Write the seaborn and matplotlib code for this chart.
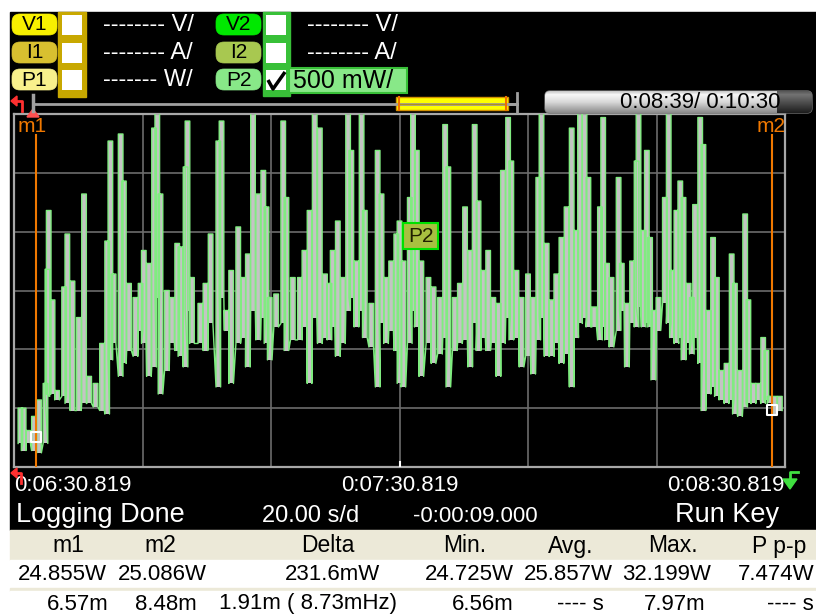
import numpy as np
import pandas as pd
import matplotlib
matplotlib.use("Agg")
import matplotlib.pyplot as plt
import seaborn as sns
from matplotlib.patches import Rectangle, FancyBboxPatch, Polygon

# ---------------- data ----------------
# time in seconds after 0:06:30.819, P2 power envelope (W)
t_s = [1.0, 1.5, 2.2, 3.1, 3.9, 4.9, 5.2, 5.4, 6.0, 6.7,
       7.8, 8.3, 9.1, 10.1, 10.9, 11.7, 12.7, 13.7, 14.5, 15.0,
       15.5, 16.6, 17.1, 17.9, 18.9, 19.7, 20.2, 21.0, 21.8, 22.3,
       22.8, 23.8, 24.6, 25.4, 25.9, 26.7, 27.0, 27.7, 29.0, 29.8,
       30.6,
       31.8, 32.3, 33.1, 33.8, 34.9, 35.7, 36.4, 37.2, 38.0, 38.8,
       39.3, 39.8, 40.8, 41.9, 42.4, 43.4, 44.5, 45.2, 46.0, 46.8,
       47.6, 48.4, 49.1, 49.6, 50.4, 51.2, 52.0, 52.5, 53.3, 54.1,
       54.6, 55.6, 56.6, 57.2, 57.9, 58.7, 59.5, 60.0,
       60.6, 61.6, 62.1, 62.7, 63.4, 64.5, 65.3, 66.3, 67.1, 67.6,
       68.6, 69.4, 70.2, 71.0, 71.7, 72.3, 73.0, 73.8, 74.6, 75.4,
       76.1, 76.9, 77.4, 78.2, 79.0, 80.0, 80.8, 81.6, 82.1, 82.9,
       83.7, 84.4, 85.2, 86.0, 86.8, 87.5, 88.1, 88.8, 89.4, 90.3,
       91.2, 91.7, 92.3, 93.0, 94.1, 94.6, 95.4, 96.2, 96.9, 97.2,
       98.0, 98.5, 99.0, 99.5, 100.3, 101.3, 101.9, 102.4, 103.1, 103.7,
       104.2, 105.0, 105.5, 106.0, 106.8, 107.3, 108.1, 108.8, 109.4, 110.1,
       110.9, 111.7, 112.2, 113.0, 113.8, 114.3, 115.1, 115.8, 116.6, 117.1,
       117.6, 118.4, 119.2]

p2_hi = [25.10, 25.10, 24.91, 25.03, 25.17, 25.31, 26.28, 26.78, 26.02, 25.25,
         26.13, 26.58, 26.18, 25.87, 26.92, 25.37, 25.31, 25.65, 26.52, 27.37,
         26.24, 27.43, 27.03, 26.16, 26.04, 26.16, 26.44, 26.33, 27.48, 27.90,
         26.92, 26.10, 26.04, 26.50, 26.47, 27.15, 27.54, 26.21, 25.99, 26.16,
         26.58,
         27.37, 27.54, 25.93, 26.27, 26.64, 26.21, 26.41, 27.80, 26.92, 27.12,
         26.81, 26.04, 26.07, 27.54, 26.89, 26.21, 26.21, 26.44, 26.78, 27.80,
         27.48, 26.24, 26.16, 26.44, 26.69, 26.21, 27.80, 27.29, 26.35, 27.80,
         26.78, 25.99, 27.29, 26.92, 26.21, 26.35, 26.58, 26.69,
         26.35, 26.89, 27.80, 27.29, 26.35, 26.21, 26.13, 26.04, 27.51, 27.15,
         26.04, 26.16, 26.81, 26.44, 27.51, 26.86, 26.27, 26.44, 26.04, 25.99,
         27.12, 27.57, 27.20, 26.27, 26.04, 26.24, 26.04, 27.06, 27.80, 26.50,
         26.02, 26.24, 26.55, 26.81, 27.48, 26.61, 32.20, 27.70, 27.06, 25.96,
         26.81, 27.57, 26.33, 26.21, 27.06, 26.33, 25.99, 26.35, 27.20, 27.80,
         26.61, 27.29, 26.55, 25.93, 26.04, 26.89, 27.80, 26.27, 26.78, 27.03,
         26.89, 26.16, 26.04, 26.83, 27.57, 27.34, 25.93, 26.55, 26.21, 25.42,
         25.48, 26.41, 26.16, 25.42, 26.75, 26.02, 25.31, 25.31, 25.70, 25.59,
         25.20, 25.20, 25.20]

p2_lo = [24.80, 24.74, 24.80, 24.74, 24.72, 24.80, 25.20, 25.22, 25.22, 25.17,
         25.20, 25.14, 25.08, 25.08, 25.14, 25.14, 25.11, 25.08, 25.05, 25.51,
         25.65, 25.37, 25.48, 25.59, 25.54, 25.76, 25.65, 25.37, 25.45, 26.04,
         25.22, 25.42, 25.65, 25.59, 25.54, 25.45, 25.93, 25.65, 25.65, 25.59,
         25.82,
         25.28, 26.04, 25.76, 25.31, 25.65, 25.70, 25.45, 25.93, 25.68, 25.87,
         25.65, 25.51, 25.79, 25.82, 25.59, 25.68, 25.68, 25.79, 25.31, 25.87,
         25.65, 25.70, 25.68, 25.79, 25.54, 25.65, 25.93, 26.04, 25.79, 25.93,
         25.70, 25.62, 25.28, 25.82, 25.65, 25.76, 25.59, 25.31,
         25.28, 25.65, 25.93, 25.79, 25.37, 25.65, 25.48, 25.56, 25.70, 25.28,
         25.59, 25.65, 25.68, 25.45, 25.82, 25.59, 25.70, 25.59, 25.65, 25.37,
         25.65, 25.87, 25.68, 25.70, 25.45, 25.54, 25.39, 25.68, 25.87, 25.54,
         25.54, 25.65, 25.48, 25.56, 25.28, 25.70, 25.82, 25.87, 25.79, 25.79,
         25.68, 25.79, 25.68, 25.62, 25.76, 25.93, 25.45, 25.82, 25.79, 25.96,
         25.79, 25.82, 25.79, 25.34, 25.76, 25.99, 25.82, 25.70, 25.65, 25.70,
         25.51, 25.65, 25.56, 25.70, 25.48, 25.08, 25.22, 25.28, 25.20, 25.17,
         25.14, 25.17, 25.05, 25.03, 25.11, 25.14, 25.14, 25.17, 25.14, 25.17,
         25.14, 25.05, 25.08]

x_ticks = [0, 20, 40, 60, 80, 100, 120]
x_tick_labels = ["0:06:30.819", "", "", "0:07:30.819", "", "", "0:08:30.819"]
y_ticks = [24.6, 25.1, 25.6, 26.1, 26.6, 27.1, 27.6]

m1_t, m2_t = 3.4, 118.0
m1_w, m2_w = 24.855, 25.086

ch_left = ["V1", "I1", "P1"]
ch_right = ["V2", "I2", "P2"]
scale_left = ["-------- V/", "-------- A/", "------- W/"]
scale_right = ["-------- V/", "-------- A/", "500 mW/"]
status_texts = ["Logging Done", "20.00 s/d", "-0:00:09.000", "Run Key"]
time_text = "0:08:39/ 0:10:30"
table_header = ["m1", "m2", "Delta", "Min.", "Avg.", "Max.", "P p-p"]
table_values = ["24.855W", "25.086W", "231.6mW", "24.725W", "25.857W", "32.199W", "7.474W"]
table_times = ["6.57m", "8.48m", "1.91m ( 8.73mHz)", "6.56m", "---- s", "7.97m", "---- s"]

# ---------------- styling ----------------
plt.rcParams['font.family'] = ['Liberation Sans', 'DejaVu Sans']
GREEN = '#80ec80'
GRAYFILL = '#c4c4c4'
ORANGE = '#f07800'

W, H = 816, 615
fig = plt.figure(figsize=(W / 100, H / 100), dpi=100)
fig.patch.set_facecolor('white')

# background layer in pixel coordinates
bg = fig.add_axes([0, 0, 1, 1], zorder=0)
bg.set_xlim(0, W); bg.set_ylim(H, 0); bg.axis('off')
bg.add_patch(Rectangle((10, 12), W - 10, 518, color='black'))
bg.add_patch(Rectangle((10, 530), W - 10, 30, color='#ece9d8'))
bg.add_patch(Rectangle((10, 560), W - 10, 28, color='white'))
bg.add_patch(Rectangle((10, 588), W - 10, 3, color='#ece9d8'))
bg.add_patch(Rectangle((10, 591), W - 10, 24, color='white'))

# ---------------- main plot ----------------
ax = fig.add_axes([14 / W, 1 - 467 / H, 771 / W, 353 / H], zorder=2)
ax.set_facecolor('black')

t = np.asarray(t_s); hi = np.asarray(p2_hi); lo = np.asarray(p2_lo)
hw = 0.36
ax.bar(t, hi - lo, bottom=lo, width=2 * hw, color=GRAYFILL, linewidth=0, zorder=2)
xs = np.column_stack([t - hw, t - hw, t + hw, t + hw]).ravel()
ys = np.column_stack([lo, hi, hi, lo]).ravel()
trace = pd.DataFrame({"t": xs, "p": ys})
sns.lineplot(data=trace, x="t", y="p", sort=False, estimator=None,
             color=GREEN, linewidth=1.0, ax=ax, zorder=3)

ax.set_xlim(0, 120)
ax.set_ylim(y_ticks[0], y_ticks[-1])
ax.set_xticks(x_ticks)
ax.set_xticklabels(x_tick_labels)
ax.set_yticks(y_ticks)
ax.set_yticklabels([])
ax.set_xlabel(""); ax.set_ylabel("")
ax.grid(True, color='#6c6c6c', linewidth=1.2, zorder=1)
ax.set_axisbelow(True)
ax.tick_params(length=0, labelcolor='white', labelsize=16, pad=6)
labs = ax.get_xticklabels()
labs[0].set_ha('left'); labs[-1].set_ha('right')
for sp in ax.spines.values():
    sp.set_color('#a8a8a8'); sp.set_linewidth(1.6)

# markers m1 / m2
for mt in (m1_t, m2_t):
    ax.axvline(mt, ymin=0, ymax=0.94, color=ORANGE, linewidth=1.5, zorder=5)
ax.scatter([m1_t, m2_t], [m1_w, m2_w], marker='s', s=55, facecolor='none',
           edgecolor='white', linewidth=1.5, zorder=6)
ax.plot([60, 60], [24.6, 24.64], color='white', lw=1.5, zorder=6)

# ---------------- foreground / screen UI ----------------
fg = fig.add_axes([0, 0, 1, 1], zorder=5)
fg.set_xlim(0, W); fg.set_ylim(H, 0); fg.axis('off'); fg.patch.set_alpha(0)

fg.text(18, 127, "m1", color=ORANGE, fontsize=15, ha='left', va='center')
fg.text(786, 127, "m2", color=ORANGE, fontsize=15, ha='right', va='center')

fg.add_patch(Rectangle((403, 223), 35, 26, fc='#a8c040', ec='#00e000', lw=1.5))
fg.text(420.5, 236.5, "P2", fontsize=15, color='#202000', ha='center', va='center')

rows_y = [14, 42, 69]
badge_cols_l = ['#f8f000', '#d8c030', '#f8f08c']
badge_cols_r = ['#00e800', '#a8c850', '#88e888']

def badge(x, y, label, col):
    fg.add_patch(FancyBboxPatch((x, y), 45, 21, boxstyle="round,pad=0,rounding_size=8",
                                fc=col, ec=col, lw=0.5))
    fg.text(x + 22.5, y + 11, label, fontsize=15, color='black', ha='center', va='center')

# left channel column
fg.add_patch(Rectangle((58, 12), 28, 85, fc='#c8a800', ec='#c8a800'))
# right channel column
fg.add_patch(Rectangle((263, 12), 27, 84, fc='#38c038', ec='#38c038'))
for i, y in enumerate(rows_y):
    badge(12, y, ch_left[i], badge_cols_l[i])
    badge(216, y, ch_right[i], badge_cols_r[i])
    fg.add_patch(Rectangle((62, y + 1), 20, 20, fc='white', ec='none'))
    fg.add_patch(Rectangle((266, y + 1), 20, 20, fc='white', ec='none'))
    fg.text(103, y + 11, scale_left[i], fontsize=17, color='white', ha='left', va='center')
    if i < 2:
        fg.text(307, y + 11, scale_right[i], fontsize=17, color='white', ha='left', va='center')

# P2 scale box with check mark
fg.add_patch(Rectangle((289, 68), 118, 25, fc='#88e888', ec='#38c038', lw=1.5))
fg.text(293, 81, scale_right[2], fontsize=18, color='black', ha='left', va='center')
fg.plot([268, 273, 285], [80, 89, 72], color='black', lw=2.5, solid_capstyle='butt')

# slider row
fg.plot([22, 22, 15], [111, 101, 101], color='#ff3030', lw=2)
fg.add_patch(Polygon([(11, 101), (17, 96), (17, 106)], color='#ff3030'))
fg.plot([33, 517], [104, 104], color='#a0a0a0', lw=2)
fg.plot([33, 33], [95, 111], color='#a0a0a0', lw=2.5)
fg.add_patch(Polygon([(27, 117), (39, 117), (33, 109)], color='#ff5050'))
fg.add_patch(Rectangle((396, 97), 112, 13, fc='#ffff00', ec='#d09000', lw=1))
fg.plot([398, 506], [103.5, 103.5], color='#b09020', lw=1)
fg.plot([399, 399], [97, 110], color='#f07000', lw=1.5)
fg.plot([506, 506], [97, 110], color='#f07000', lw=1.5)
fg.plot([508, 517], [104, 104], color='#a0a0a0', lw=2)
fg.plot([517, 517], [93, 112], color='#a0a0a0', lw=2)

# time box with gradient
box = FancyBboxPatch((545, 91), 267, 22, boxstyle="round,pad=0,rounding_size=5",
                     fc='none', ec='#707070', lw=1)
fg.add_patch(box)
prof_light = np.interp(np.linspace(0, 1, 22), [0, 0.15, 0.5, 1], [0.80, 0.97, 0.85, 0.55])
prof_dark = np.interp(np.linspace(0, 1, 22), [0, 0.15, 1], [0.35, 0.45, 0.12])
img = np.zeros((22, 267, 3))
split = 232
img[:, :split, :] = prof_light[:, None, None]
img[:, split:, :] = prof_dark[:, None, None]
im = fg.imshow(img, extent=(545, 812, 113, 91), aspect='auto', zorder=4, interpolation='bilinear')
im.set_clip_path(box)
fg.set_xlim(0, W); fg.set_ylim(H, 0)
fg.text(780, 102.5, time_text, fontsize=16, color='black', ha='right', va='center', zorder=6)

# bottom icons
fg.plot([21, 21, 15], [483, 473, 473], color='#ff3030', lw=2)
fg.add_patch(Polygon([(11, 473), (17, 468), (17, 478)], color='#ff3030'))
fg.plot([798, 790, 790], [472, 472, 480], color='#40e040', lw=2)
fg.add_patch(Polygon([(783, 479), (797, 479), (790, 489)], color='#40e040'))

# status row
fg.text(16, 515, status_texts[0], fontsize=19.5, color='white', ha='left', va='center')
fg.text(262, 516, status_texts[1], fontsize=17, color='white', ha='left', va='center')
fg.text(413, 516, status_texts[2], fontsize=16, color='white', ha='left', va='center')
fg.text(779, 515, status_texts[3], fontsize=19.5, color='white', ha='right', va='center')

# table
hdr_x = [68, 160, 328, 465, 571, 673, 779]
val_x = [62, 162, 332, 469, 568, 667, 776]
tim_x = [78, 166, 308, 483, 580, 675, 790]
for i in range(7):
    fg.text(hdr_x[i], 546, table_header[i], fontsize=16.5, color='black', ha='center', va='center')
    fg.text(val_x[i], 574, table_values[i], fontsize=16, color='black', ha='center', va='center')
    fg.text(tim_x[i], 604, table_times[i], fontsize=16, color='black', ha='center', va='center')

fig.savefig("out.png", dpi=100, facecolor=fig.get_facecolor())
